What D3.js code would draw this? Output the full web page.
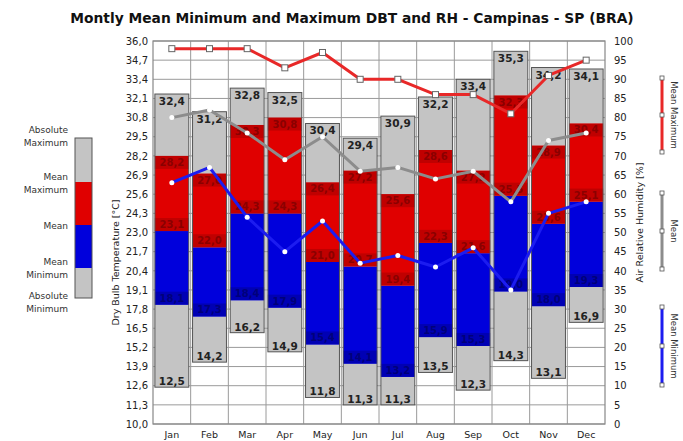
<!DOCTYPE html>
<html>
<head>
<meta charset="utf-8">
<script src="https://cdn.jsdelivr.net/npm/d3@7"></script>
<style>
  body { margin: 0; background: #fff; }
  text { font-family: "DejaVu Sans", sans-serif; }
</style>
</head>
<body>
<svg id="chart" width="683" height="441"></svg>
<script>
// data
const months = ['Jan', 'Feb', 'Mar', 'Apr', 'May', 'Jun', 'Jul', 'Aug', 'Sep', 'Oct', 'Nov', 'Dec'];
const absMax = [32.4, 31.2, 32.8, 32.5, 30.4, 29.4, 30.9, 32.2, 33.4, 35.3, 34.2, 34.1];
const meanMax = [28.2, 27.0, 30.3, 30.8, 26.4, 27.2, 25.6, 28.6, 27.2, 32.3, 28.9, 30.4];
const meanT = [23.1, 22.0, 24.3, 24.3, 21.0, 20.7, 19.4, 22.3, 21.6, 25.5, 23.6, 25.1];
const meanMin = [18.1, 17.3, 18.4, 17.9, 15.4, 14.1, 13.2, 15.9, 15.3, 19.0, 18.0, 19.3];
const absMin = [12.5, 14.2, 16.2, 14.9, 11.8, 11.3, 11.3, 13.5, 12.3, 14.3, 13.1, 16.9];

const rhMax = [98, 98, 98, 93, 97, 90, 90, 86, 86, 81, 91, 95];
const rhMean = [80, 82, 76, 69, 75, 66, 67, 64, 66, 58, 74, 76];
const rhMin = [63, 67, 54, 45, 53, 42, 44, 41, 46, 35, 55, 58];

const tempTicks = [10.0, 11.3, 12.6, 13.9, 15.2, 16.5, 17.8, 19.1, 20.4, 21.7, 23.0,
  24.3, 25.6, 26.9, 28.2, 29.5, 30.8, 32.1, 33.4, 34.7, 36.0];
const rhTicks = [0, 5, 10, 15, 20, 25, 30, 35, 40, 45, 50, 55, 60, 65, 70, 75, 80, 85, 90, 95, 100];

const margin = { top: 41, left: 153 };
const width = 452;
const height = 383;

const fmt = (v) => v.toFixed(1).replace('.', ',');

const svg = d3.select('#chart');

// title
svg.append('text')
  .attr('x', 352)
  .attr('y', 23)
  .attr('text-anchor', 'middle')
  .attr('font-size', '13.8px')
  .attr('font-weight', 'bold')
  .attr('fill', '#111')
  .text('Montly Mean Minimum and Maximum DBT and RH - Campinas - SP (BRA)');

const g = svg.append('g').attr('transform', `translate(${margin.left},${margin.top})`);

const x = d3.scaleBand().domain(months).range([0, width]).paddingInner(0.1).paddingOuter(0.05);
const y = d3.scaleLinear().domain([10, 36]).range([height, 0]);
const yr = d3.scaleLinear().domain([0, 100]).range([height, 0]);
const step = width / months.length;

// grid
g.append('g')
  .selectAll('line')
  .data(tempTicks)
  .join('line')
  .attr('x1', 0)
  .attr('x2', width)
  .attr('y1', (d) => y(d))
  .attr('y2', (d) => y(d))
  .attr('stroke', '#9a9a9a')
  .attr('stroke-width', 1);

g.append('g')
  .selectAll('line')
  .data(d3.range(1, months.length))
  .join('line')
  .attr('x1', (d) => d * step)
  .attr('x2', (d) => d * step)
  .attr('y1', 0)
  .attr('y2', height)
  .attr('stroke', '#9a9a9a')
  .attr('stroke-width', 1);

// stacked bars
const colors = { gray: '#c4c4c4', red: '#e00000', darkRed: '#c00000', blue: '#0000dc', darkBlue: '#0000b4' };
const bars = g.append('g')
  .selectAll('g')
  .data(months)
  .join('g');

const segs = [
  { lo: absMin, hi: meanMin, fill: colors.gray },
  { lo: meanMin, hi: meanT, fill: colors.blue },
  { lo: meanT, hi: meanMax, fill: colors.red },
  { lo: meanMax, hi: absMax, fill: colors.gray }
];
segs.forEach((s) => {
  bars.append('rect')
    .attr('x', (d) => x(d))
    .attr('width', x.bandwidth())
    .attr('y', (d, i) => y(s.hi[i]))
    .attr('height', (d, i) => y(s.lo[i]) - y(s.hi[i]))
    .attr('fill', s.fill);
});

// darker strips holding the mean labels
const bandH = 13;
const strips = [
  { vals: meanMax, top: true, fill: colors.darkRed, text: '#8a0000' },
  { vals: meanT, top: false, fill: colors.darkRed, text: '#8a0000' },
  { vals: meanMin, top: false, fill: colors.darkBlue, text: '#00007a' }
];
strips.forEach((s) => {
  bars.append('rect')
    .attr('x', (d) => x(d))
    .attr('width', x.bandwidth())
    .attr('y', (d, i) => (s.top ? y(s.vals[i]) : y(s.vals[i]) - bandH))
    .attr('height', bandH)
    .attr('fill', s.fill);
  bars.append('text')
    .attr('x', (d) => x(d) + x.bandwidth() / 2)
    .attr('y', (d, i) => (s.top ? y(s.vals[i]) + 10 : y(s.vals[i]) - 3))
    .attr('text-anchor', 'middle')
    .attr('font-size', '10px')
    .attr('font-weight', 'bold')
    .attr('fill', s.text)
    .text((d, i) => fmt(s.vals[i]));
});

// bar outline
bars.append('rect')
  .attr('x', (d) => x(d))
  .attr('width', x.bandwidth())
  .attr('y', (d, i) => y(absMax[i]))
  .attr('height', (d, i) => y(absMin[i]) - y(absMax[i]))
  .attr('fill', 'none')
  .attr('stroke', '#555')
  .attr('stroke-width', 1);

// absolute labels
bars.append('text')
  .attr('x', (d) => x(d) + x.bandwidth() / 2)
  .attr('y', (d, i) => y(absMax[i]) + 11)
  .attr('text-anchor', 'middle')
  .attr('font-size', '10.5px')
  .attr('font-weight', 'bold')
  .attr('fill', '#222')
  .text((d, i) => fmt(absMax[i]));

bars.append('text')
  .attr('x', (d) => x(d) + x.bandwidth() / 2)
  .attr('y', (d, i) => y(absMin[i]) - 2)
  .attr('text-anchor', 'middle')
  .attr('font-size', '10.5px')
  .attr('font-weight', 'bold')
  .attr('fill', '#222')
  .text((d, i) => fmt(absMin[i]));

// humidity lines
const cx = (i) => x(months[i]) + x.bandwidth() / 2;
const rhSeries = [
  { vals: rhMax, color: '#e82828', square: true },
  { vals: rhMean, color: '#8c8c8c', square: false },
  { vals: rhMin, color: '#1c1cf0', square: false }
];
rhSeries.forEach((s) => {
  const line = d3.line().x((d, i) => cx(i)).y((d) => yr(d));
  g.append('path')
    .datum(s.vals)
    .attr('fill', 'none')
    .attr('stroke', s.color)
    .attr('stroke-width', 3)
    .attr('stroke-linejoin', 'round')
    .attr('d', line);
  if (s.square) {
    g.append('g')
      .selectAll('rect')
      .data(s.vals)
      .join('rect')
      .attr('x', (d, i) => cx(i) - 3)
      .attr('y', (d) => yr(d) - 3)
      .attr('width', 6)
      .attr('height', 6)
      .attr('fill', '#fff')
      .attr('stroke', '#666')
      .attr('stroke-width', 1);
  } else {
    g.append('g')
      .selectAll('circle')
      .data(s.vals)
      .join('circle')
      .attr('cx', (d, i) => cx(i))
      .attr('cy', (d) => yr(d))
      .attr('r', 2.5)
      .attr('fill', '#fff');
  }
});

// frame
g.append('rect')
  .attr('width', width)
  .attr('height', height)
  .attr('fill', 'none')
  .attr('stroke', '#888')
  .attr('stroke-width', 1.2);

// left axis
const yAxis = g.append('g')
  .call(d3.axisLeft(y).tickValues(tempTicks).tickFormat(fmt).tickSize(0).tickPadding(5));
yAxis.select('.domain').remove();
yAxis.selectAll('text').attr('font-size', '10px').attr('fill', '#222').style('font-family', '"DejaVu Sans", sans-serif');

// right axis
const rAxis = g.append('g')
  .attr('transform', `translate(${width},0)`)
  .call(d3.axisRight(yr).tickValues(rhTicks).tickSize(0).tickPadding(9));
rAxis.select('.domain').remove();
rAxis.selectAll('text').attr('font-size', '10px').attr('fill', '#222').style('font-family', '"DejaVu Sans", sans-serif');

// bottom axis
const xAxis = g.append('g')
  .attr('transform', `translate(0,${height})`)
  .call(d3.axisBottom(x).tickSize(0).tickPadding(7));
xAxis.select('.domain').remove();
xAxis.selectAll('text').attr('font-size', '9.5px').attr('fill', '#222').style('font-family', '"DejaVu Sans", sans-serif');

// axis titles
g.append('text')
  .attr('transform', 'rotate(-90)')
  .attr('x', -height / 2 - 30)
  .attr('y', -34)
  .attr('text-anchor', 'middle')
  .attr('font-size', '9.5px')
  .attr('fill', '#222')
  .text('Dry Bulb Temperature [°C]');

g.append('text')
  .attr('transform', 'rotate(-90)')
  .attr('x', -height / 2 + 10)
  .attr('y', width + 38)
  .attr('text-anchor', 'middle')
  .attr('font-size', '9.5px')
  .attr('fill', '#222')
  .text('Air Relative Humidity [%]');

// left legend
const legL = svg.append('g');
const legendStops = [
  { y0: 138, y1: 182, fill: colors.gray },
  { y0: 182, y1: 225, fill: colors.red },
  { y0: 225, y1: 268, fill: colors.blue },
  { y0: 268, y1: 298, fill: colors.gray }
];
legL.selectAll('rect')
  .data(legendStops)
  .join('rect')
  .attr('x', 75)
  .attr('width', 17)
  .attr('y', (d) => d.y0)
  .attr('height', (d) => d.y1 - d.y0)
  .attr('fill', (d) => d.fill);
legL.append('rect')
  .attr('x', 75).attr('width', 17).attr('y', 138).attr('height', 160)
  .attr('fill', 'none').attr('stroke', '#555');

const legendLabels = [
  { lines: ['Absolute', 'Maximum'], y: 133 },
  { lines: ['Mean', 'Maximum'], y: 180 },
  { lines: ['Mean'], y: 229 },
  { lines: ['Mean', 'Minimum'], y: 265 },
  { lines: ['Absolute', 'Minimum'], y: 299 }
];
legendLabels.forEach((l) => {
  const t = legL.append('text')
    .attr('text-anchor', 'end')
    .attr('font-size', '9px')
    .attr('fill', '#333');
  l.lines.forEach((s, k) => {
    t.append('tspan').attr('x', 68).attr('y', l.y + k * 13).text(s);
  });
});

// right legend
const legR = svg.append('g');
const rLegend = [
  { label: 'Mean Maximum', color: '#e82828', y0: 78, y1: 152 },
  { label: 'Mean', color: '#8c8c8c', y0: 193, y1: 269 },
  { label: 'Mean Minimum', color: '#1c1cf0', y0: 307, y1: 385 }
];
rLegend.forEach((r) => {
  legR.append('line')
    .attr('x1', 662).attr('x2', 662)
    .attr('y1', r.y0).attr('y2', r.y1)
    .attr('stroke', r.color).attr('stroke-width', 3);
  legR.selectAll(null)
    .data([r.y0, (r.y0 + r.y1) / 2, r.y1])
    .join('rect')
    .attr('x', 660).attr('y', (d) => d - 2)
    .attr('width', 4).attr('height', 4)
    .attr('fill', '#fff').attr('stroke', '#555').attr('stroke-width', 0.8);
  legR.append('text')
    .attr('transform', `translate(671,${(r.y0 + r.y1) / 2}) rotate(90)`)
    .attr('text-anchor', 'middle')
    .attr('font-size', '8.5px')
    .attr('fill', '#333')
    .text(r.label);
});
</script>
</body>
</html>
